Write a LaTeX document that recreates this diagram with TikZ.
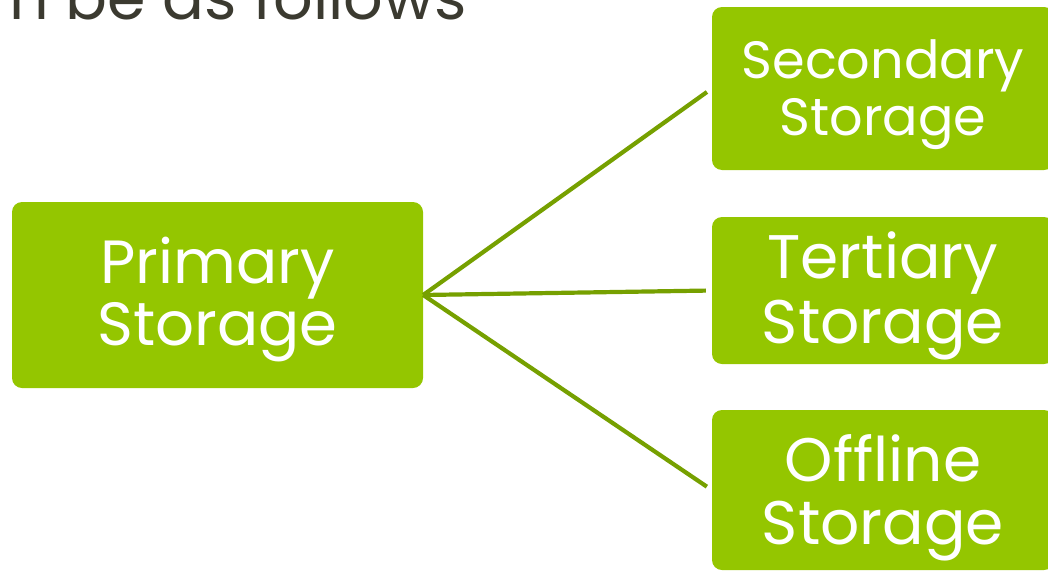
\documentclass[tikz,border=0pt]{standalone}
\usepackage{fontspec}
\setmainfont{Poppins}
\definecolor{boxgreen}{HTML}{94C600}
\definecolor{linegreen}{HTML}{76A000}
\definecolor{titlegray}{HTML}{3B3A30}
\begin{document}
\begin{tikzpicture}[x=1pt,y=-1pt,
  box/.style={fill=boxgreen, rounded corners=10pt, inner sep=0pt},
  label/.style={text=white, align=center, inner sep=0pt},
  link/.style={draw=linegreen, line width=4.2pt}]
\useasboundingbox (0,0) rectangle (1048,573);
\clip (0,0) rectangle (1048,573);
\node[anchor=base west, text=titlegray, font=\fontsize{62}{62}\selectfont, inner sep=0pt] (title) at (9,19) {n be as follows};
\node[box, minimum width=411pt, minimum height=186pt] (p) at (217.5,295) {};
\node[box, minimum width=342pt, minimum height=163pt] (s) at (883,88.5) {};
\node[box, minimum width=342pt, minimum height=147pt] (t) at (883,290.5) {};
\node[box, minimum width=342pt, minimum height=160pt] (o) at (883,490) {};
\node[label, font=\fontsize{61}{62}\selectfont] (pt) at ([yshift=-5pt]p.center) {Primary\\Storage};
\node[label, font=\fontsize{52.5}{57}\selectfont] (st) at ([yshift=-6.5pt]s.center) {Secondary\\Storage};
\node[label, font=\fontsize{61.5}{65}\selectfont] (tt) at ([yshift=-5.5pt]t.center) {Tertiary\\Storage};
\node[label, font=\fontsize{61.5}{63}\selectfont] (ot) at ([yshift=-7.5pt]o.center) {Offline\\Storage};
\draw[link, shorten >=6pt] (p.east) -- (s.west);
\draw[link, shorten >=6pt] (p.east) -- (t.west);
\draw[link, shorten >=6pt] (p.east) -- (o.west);
\end{tikzpicture}
\end{document}
